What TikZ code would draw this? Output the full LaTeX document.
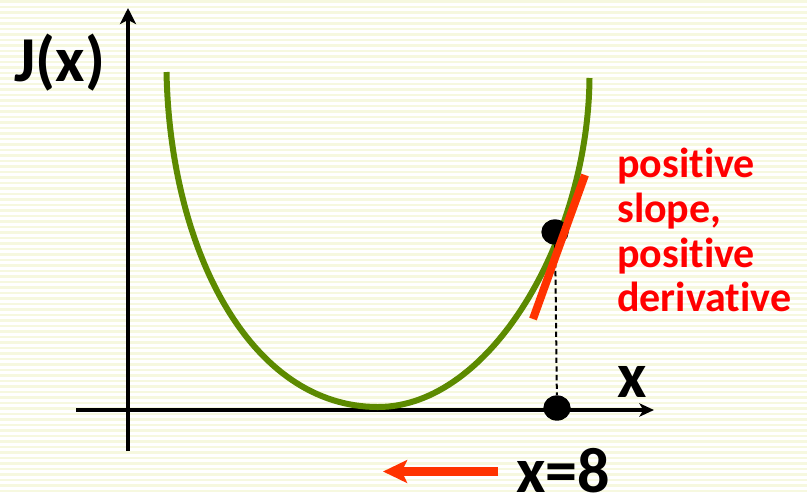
\documentclass[tikz,border=0pt]{standalone}
\usepackage{fontspec}
\setmainfont{Carlito}[Ligatures=NoCommon,RawFeature=-liga]
\usetikzlibrary{arrows.meta,shapes.geometric}
\definecolor{stripe}{HTML}{F6F8DF}
\definecolor{curvegreen}{HTML}{5C8A00}
\definecolor{tanred}{HTML}{FF3300}
\definecolor{txtred}{HTML}{FF0000}
\tikzset{
  axis/.style={line width=3pt,-{Stealth[length=12pt,width=12pt,inset=3pt]}},
  curve/.style={curvegreen,line width=4.5pt},
  tangent/.style={tanred,line width=6pt},
  dot/.style={ellipse,fill=black,inner sep=0pt,minimum width=20.5pt,minimum height=19pt},
  bigtxt/.style={font=\bfseries\fontsize{48}{52}\selectfont,inner sep=0pt},
  redtxt/.style={txtred,font=\bfseries\fontsize{31.5}{33.5}\selectfont,inner sep=0pt,align=left},
  movearrow/.style={tanred,line width=6.75pt,-{Stealth[length=18pt,width=17pt,inset=4pt]}}
}
\begin{document}
\begin{tikzpicture}[x=0.75pt,y=-0.75pt]
\fill[white] (0,0) rectangle (807,494);
\useasboundingbox (0,0) rectangle (807,494);
\foreach \i in {0,...,90} {\fill[stripe] (0,\i*5.5) rectangle (807,\i*5.5+2.8);}
% axes
\coordinate (ybot) at (128,451);
\coordinate (ytop) at (128,8);
\coordinate (xleft) at (76,410);
\coordinate (xright) at (654,410);
\draw[axis] (ybot) -- (ytop);
\draw[axis,-{Stealth[length=11pt,width=10pt,inset=3pt]}] (xleft) -- (xright);
% curve
\coordinate (cl) at (166.5,72);
\coordinate (cv) at (378,407);
\coordinate (cr) at (589.5,78);
\draw[curve] (cl) .. controls (170,250) and (250,407) .. (cv)
                  .. controls (490,407) and (588,240) .. (cr);
% dashed line and dots
\node[dot] (d1) at (555,232) {};
\node[dot] (d2) at (557,408) {};
\draw[black,line width=1.5pt,dash pattern=on 4pt off 2.5pt] (d1) -- (d2);
% tangent
\coordinate (t1) at (533,319);
\coordinate (t2) at (585,175);
\draw[tangent] (t1) -- (t2);
% labels
\node[bigtxt,anchor=base] (jx) at (60,81) {J(x)};
\node[bigtxt,anchor=base] (xl) at (632,397) {x};
\node[bigtxt,anchor=base west] (x8) at (516,492) {x=8};
\node[redtxt,anchor=north west] (desc) at (617,148) {positive\\slope,\\positive\\derivative};
% move arrow
\coordinate (as) at (498,471.5);
\coordinate (ae) at (383,471.5);
\draw[movearrow] (as) -- (ae);
\end{tikzpicture}
\end{document}
